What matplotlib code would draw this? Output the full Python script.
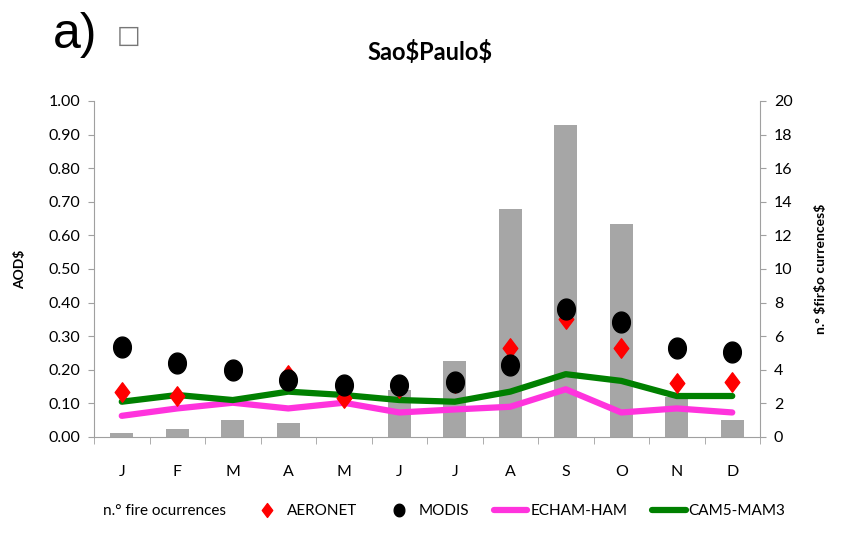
import matplotlib
matplotlib.use('Agg')
import matplotlib.pyplot as plt
from matplotlib.patches import Patch
from matplotlib.lines import Line2D
from matplotlib.path import Path
import numpy as np

months = ['J', 'F', 'M', 'A', 'M', 'J', 'J', 'A', 'S', 'O', 'N', 'D']
fire_counts = [0.25, 0.5, 1.0, 0.85, 0.0, 2.8, 4.5, 13.6, 18.6, 12.7, 2.4, 1.0]
aeronet = [0.135, 0.122, 0.200, 0.186, 0.116, 0.145, 0.160, 0.266, 0.350, 0.264, 0.160, 0.165]
modis = [0.269, 0.219, 0.199, 0.170, 0.155, 0.155, 0.165, 0.214, 0.380, 0.343, 0.264, 0.252]
echam_ham = [0.063, 0.085, 0.102, 0.085, 0.102, 0.073, 0.082, 0.090, 0.142, 0.073, 0.085, 0.073]
cam5_mam3 = [0.105, 0.125, 0.110, 0.135, 0.125, 0.110, 0.105, 0.135, 0.187, 0.167, 0.122, 0.122]

plt.rcParams['font.family'] = ['Lato', 'DejaVu Sans']

# slightly squashed marker shapes, like the original
diamond = Path([(0, 1), (0.75, 0), (0, -1), (-0.75, 0), (0, 1)],
               [Path.MOVETO, Path.LINETO, Path.LINETO, Path.LINETO, Path.CLOSEPOLY])
t = np.linspace(0, 2 * np.pi, 60)
ellipse = Path(np.column_stack([0.85 * np.cos(t), np.sin(t)]))

fig = plt.figure(figsize=(8.52, 5.44), dpi=100)
ax = fig.add_axes([94 / 852, 1 - 437 / 544, 666 / 852, 336 / 544])
ax2 = ax.twinx()

x = np.arange(len(months))

# fire bars on the right axis, drawn behind the AOD series
ax2.bar(x, fire_counts, width=0.42, color='#a6a6a6', zorder=1)
ax2.set_ylim(0, 20)
ax2.set_yticks(range(0, 21, 2))
ax.set_zorder(ax2.get_zorder() + 1)
ax.patch.set_visible(False)

ax.plot(x, echam_ham, color='#ff33dd', lw=4.5, solid_capstyle='round', zorder=3)
ax.plot(x, cam5_mam3, color='#008000', lw=4.5, solid_capstyle='round', zorder=3)
ax.plot(x, aeronet, marker=diamond, color='red', ls='none', ms=14, zorder=4)
ax.plot(x, modis, marker=ellipse, color='black', ls='none', ms=15, zorder=5)

ax.set_xlim(-0.5, len(months) - 0.5)
ax.set_ylim(0, 1.0)
ax.set_yticks(np.arange(0, 1.01, 0.1))
ax.set_yticklabels([f'{v:.2f}' for v in np.arange(0, 1.01, 0.1)], fontsize=11.5)
ax.set_xticks(x)
ax.set_xticklabels(months, fontsize=11.5)
ax.set_xticks(np.arange(-0.5, len(months), 1), minor=True)
ax.tick_params(axis='x', which='major', length=0, pad=20)
ax.tick_params(axis='x', which='minor', length=5, color='#a0a0a0', direction='out')
ax.tick_params(axis='y', length=4, color='#a0a0a0', pad=6)
ax2.tick_params(axis='y', length=4, color='#a0a0a0', pad=6, labelsize=11.5)

for a in (ax, ax2):
    a.spines['top'].set_visible(False)
    for s in ('left', 'right', 'bottom'):
        a.spines[s].set_color('#a0a0a0')
ax.spines['right'].set_visible(False)
ax2.spines['left'].set_visible(False)
ax2.spines['bottom'].set_visible(False)

ax.set_ylabel('AOD\\$', fontsize=10, fontweight='bold', labelpad=16)
ax2.set_ylabel('n.° \\$fir\\$o currences\\$', fontsize=10, fontweight='bold', labelpad=16)

fig.text(0.505, 0.905, 'Sao\\$Paulo\\$', fontsize=17, fontweight='bold', ha='center', va='center')
fig.text(0.062, 0.935, 'a)', fontsize=36, ha='left', va='center', family='Liberation Sans')
fig.text(0.137, 0.934, '□', fontsize=18, color='#777777', ha='left', va='center', family='DejaVu Sans')

handles = [
    Patch(facecolor='none', edgecolor='none'),
    Line2D([], [], marker=diamond, color='red', ls='none', ms=10),
    Line2D([], [], marker=ellipse, color='black', ls='none', ms=9),
    Line2D([], [], color='#ff33dd', lw=4.5, solid_capstyle='round'),
    Line2D([], [], color='#008000', lw=4.5, solid_capstyle='round'),
]
labels = ['n.° fire ocurrences', 'AERONET', 'MODIS', 'ECHAM-HAM', 'CAM5-MAM3']
fig.legend(handles, labels, loc='center', bbox_to_anchor=(0.5, 0.06), ncol=5,
           frameon=False, fontsize=11, handlelength=2.2, handletextpad=0.2,
           columnspacing=1.6)

fig.savefig('out.png', dpi=100)
